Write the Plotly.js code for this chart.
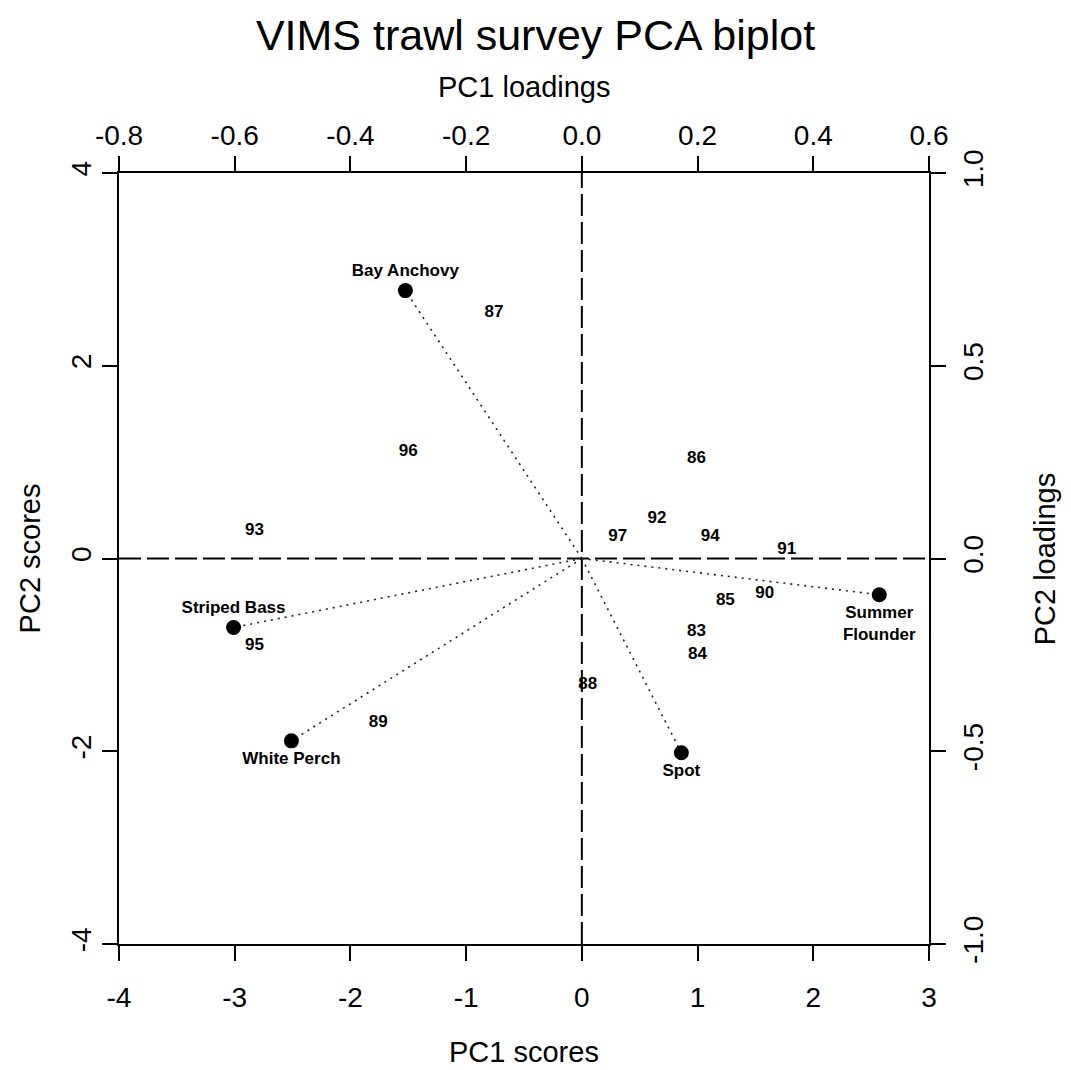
<!DOCTYPE html>
<html>
<head>
<meta charset="utf-8">
<script src="https://cdn.plot.ly/plotly-3.0.1.min.js"></script>
<style>html,body{margin:0;padding:0;background:#fff;}</style>
</head>
<body>
<div id="chart" style="width:1071px;height:1070px;"></div>
<script>
// Survey years and their scores on the first two principal components
const years     = ['83', '84', '85', '86', '87', '88', '89', '90', '91', '92', '93', '94', '95', '96', '97'];
const pc1Scores = [0.99, 1.00, 1.24, 0.99, -0.76, 0.05, -1.76, 1.58, 1.77, 0.65, -2.83, 1.11, -2.83, -1.50, 0.31];
const pc2Scores = [-0.76, -1.00, -0.44, 1.04, 2.55, -1.31, -1.70, -0.37, 0.09, 0.41, 0.29, 0.23, -0.91, 1.11, 0.23];

// Species loadings on the same components
const species     = ['Bay Anchovy', 'Striped Bass', 'White Perch', 'Spot', 'Summer Flounder'];
const pc1Loadings = [-0.305, -0.602, -0.502, 0.172, 0.514];
const pc2Loadings = [0.695, -0.179, -0.473, -0.504, -0.094];

// Axis ticks and their labels
const scoreXTicks  = [-4, -3, -2, -1, 0, 1, 2, 3];
const scoreXLabels = ['-4', '-3', '-2', '-1', '0', '1', '2', '3'];
const scoreYTicks  = [-4, -2, 0, 2, 4];
const scoreYLabels = ['-4', '-2', '0', '2', '4'];
const loadXTicks   = [-0.8, -0.6, -0.4, -0.2, 0.0, 0.2, 0.4, 0.6];
const loadXLabels  = ['-0.8', '-0.6', '-0.4', '-0.2', '0.0', '0.2', '0.4', '0.6'];
const loadYTicks   = [-1.0, -0.5, 0.0, 0.5, 1.0];
const loadYLabels  = ['-1.0', '-0.5', '0.0', '0.5', '1.0'];

const FONT = 'Liberation Sans, Arial, Helvetica, sans-serif';
const BLACK = '#000000';

// Dotted rays from the origin to each species loading
const rayX = [], rayY = [];
species.forEach((s, i) => {
  rayX.push(0, pc1Loadings[i], null);
  rayY.push(0, pc2Loadings[i], null);
});

const traces = [
  {
    type: 'scatter', mode: 'text',
    x: pc1Scores, y: pc2Scores, text: years,
    textposition: 'middle center',
    textfont: { family: FONT, size: 17, color: BLACK, weight: 'bold' },
    xaxis: 'x', yaxis: 'y', hoverinfo: 'skip'
  },
  {
    type: 'scatter', mode: 'lines',
    x: rayX, y: rayY,
    line: { color: '#222222', width: 1.6, dash: '2px,5px' },
    xaxis: 'x2', yaxis: 'y2', hoverinfo: 'skip'
  },
  {
    type: 'scatter', mode: 'markers+text',
    x: pc1Loadings, y: pc2Loadings,
    text: species.map(s => s.replace('Summer ', 'Summer<br>')),
    textposition: ['top center', 'top center', 'bottom center', 'bottom center', 'bottom center'],
    textfont: { family: FONT, size: 17, color: BLACK, weight: 'bold' },
    marker: { size: 15, color: BLACK },
    xaxis: 'x2', yaxis: 'y2', hoverinfo: 'skip'
  }
];

const axisBase = {
  showgrid: false, zeroline: false,
  showline: true, linecolor: BLACK, linewidth: 2,
  ticks: 'outside', ticklen: 15, tickwidth: 2, tickcolor: BLACK,
  tickfont: { family: FONT, size: 28, color: BLACK },
  tickmode: 'array', fixedrange: true
};

const layout = {
  width: 1071, height: 1070,
  margin: { l: 119, r: 142, t: 173, b: 126, pad: 0 },
  paper_bgcolor: '#ffffff', plot_bgcolor: '#ffffff',
  showlegend: false, hovermode: false,
  font: { family: FONT, color: BLACK },
  title: {
    text: 'VIMS trawl survey PCA biplot',
    font: { family: FONT, size: 43, color: BLACK },
    x: 0.5, xref: 'container', xanchor: 'center',
    y: 0.967, yref: 'container', yanchor: 'middle'
  },
  xaxis: Object.assign({}, axisBase, {
    range: [-4, 3], side: 'bottom',
    tickvals: scoreXTicks, ticktext: scoreXLabels,
    ticklabelstandoff: 12
  }),
  yaxis: Object.assign({}, axisBase, {
    range: [-4, 4], side: 'left',
    tickvals: scoreYTicks, ticktext: scoreYLabels,
    tickangle: -90, ticklabelstandoff: 0
  }),
  xaxis2: Object.assign({}, axisBase, {
    range: [-0.8, 0.6], side: 'top', overlaying: 'x',
    tickvals: loadXTicks, ticktext: loadXLabels,
    ticklabelstandoff: 0
  }),
  yaxis2: Object.assign({}, axisBase, {
    range: [-1, 1], side: 'right', overlaying: 'y',
    tickvals: loadYTicks, ticktext: loadYLabels,
    tickangle: -90, ticklabelstandoff: 3
  }),
  shapes: [
    { type: 'line', xref: 'x', yref: 'paper', x0: 0, x1: 0, y0: 0, y1: 1,
      line: { color: BLACK, width: 2, dash: '22px,6px' }, layer: 'below' },
    { type: 'line', xref: 'paper', yref: 'y', x0: 0, x1: 1, y0: 0, y1: 0,
      line: { color: BLACK, width: 2, dash: '22px,6px' }, layer: 'below' }
  ],
  annotations: [
    { text: 'PC1 scores', xref: 'paper', yref: 'paper', x: 0.5, y: -0.140,
      xanchor: 'center', yanchor: 'middle', showarrow: false,
      font: { family: FONT, size: 29, color: BLACK } },
    { text: 'PC1 loadings', xref: 'paper', yref: 'paper', x: 0.5, y: 1.112,
      xanchor: 'center', yanchor: 'middle', showarrow: false,
      font: { family: FONT, size: 29, color: BLACK } },
    { text: 'PC2 scores', xref: 'paper', yref: 'paper', x: -0.110, y: 0.5,
      xanchor: 'center', yanchor: 'middle', textangle: -90, showarrow: false,
      font: { family: FONT, size: 29, color: BLACK } },
    { text: 'PC2 loadings', xref: 'paper', yref: 'paper', x: 1.143, y: 0.5,
      xanchor: 'center', yanchor: 'middle', textangle: -90, showarrow: false,
      font: { family: FONT, size: 29, color: BLACK } }
  ]
};

Plotly.newPlot('chart', traces, layout, { displayModeBar: false, staticPlot: true });
</script>
</body>
</html>
